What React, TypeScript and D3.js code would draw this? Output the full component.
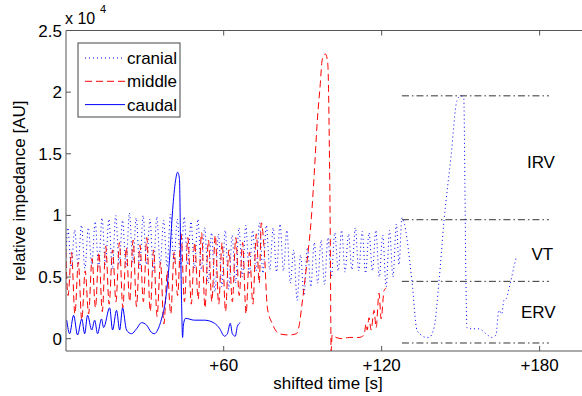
import React from "react";
import * as d3 from "d3";

// values in units of 10^4 AU, time in seconds
const cranial: [number, number][] = [
  [0, 0.62], [0.8, 0.9], [2.1, 0.58], [3.4, 0.88], [4.7, 0.6], [6.0, 0.92], [7.3, 0.57], [8.6, 0.9], [9.9, 0.6],
  [11.2, 0.95], [12.5, 0.58], [13.8, 0.98], [15.1, 0.6], [16.4, 0.97], [17.7, 0.56], [19.0, 1.0], [20.3, 0.6],
  [21.6, 0.96], [22.9, 0.58], [24.2, 1.02], [25.5, 0.62], [26.8, 0.98], [28.1, 0.57], [29.4, 1.0], [30.7, 0.6],
  [32.0, 0.97], [33.3, 0.55], [34.6, 0.99], [35.9, 0.6], [37.2, 0.96], [38.5, 0.58], [39.8, 1.01], [41.1, 0.62],
  [42.4, 0.97], [43.7, 0.58], [45.0, 0.99], [46.3, 0.6], [47.6, 0.95], [48.9, 0.57], [50.2, 0.97], [51.5, 0.56],
  [52.8, 0.9], [54.1, 0.45], [55.4, 0.86], [56.7, 0.38], [58.0, 0.85], [59.3, 0.42], [60.6, 0.88], [61.9, 0.4],
  [63.2, 0.84], [64.5, 0.45], [65.8, 0.9], [67.1, 0.5], [68.4, 0.92], [69.7, 0.52], [71.0, 0.88], [72.3, 0.55],
  [73.6, 0.94], [74.9, 0.53], [76.2, 0.92], [77.5, 0.56], [78.8, 0.9], [80.1, 0.54], [81.4, 0.93], [82.7, 0.55],
  [84.0, 0.88], [85.3, 0.45], [86.6, 0.72], [87.9, 0.31], [89.2, 0.68], [90.5, 0.35],
  [91.8, 0.74], [93.1, 0.42], [94.4, 0.78], [95.7, 0.45], [97.0, 0.8], [98.3, 0.44], [99.6, 0.82],
  [100.9, 0.5], [102.2, 0.86], [103.5, 0.55], [104.8, 0.88], [106.1, 0.54], [107.4, 0.85], [108.7, 0.56],
  [110.0, 0.9], [111.3, 0.55], [112.6, 0.87], [113.9, 0.53], [115.2, 0.86], [116.5, 0.55], [117.8, 0.88], [119.1, 0.5],
  [120.4, 0.84], [121.7, 0.42], [123.0, 0.88], [124.3, 0.5], [125.6, 0.93], [126.6, 0.6], [127.7, 0.98],
  [131.5, 0.47], [133.4, 0.07], [135.0, 0.03], [136.9, 0.01], [138.0, 0.01], [139.9, 0.09], [141.8, 0.47],
  [143.7, 0.96], [146.3, 1.47], [148.6, 1.93], [150.1, 1.97], [151.2, 1.95], [151.6, 1.28], [152.0, 0.47],
  [152.4, 0.09], [154.3, 0.08], [156.9, 0.08], [159.6, 0.04], [161.9, 0.01], [163.4, 0.03], [164.5, 0.23],
  [165.6, 0.2], [166.4, 0.31], [167.5, 0.33], [168.3, 0.4], [169.1, 0.47], [170.2, 0.58], [171.0, 0.65],
];

const middle: [number, number][] = [
  [0, 0.72], [0.9, 0.35], [2.2, 0.7], [3.5, 0.2], [4.8, 0.62], [6.1, 0.15], [7.4, 0.55], [8.7, 0.2], [10.0, 0.65],
  [11.3, 0.25], [12.6, 0.7], [13.9, 0.22], [15.2, 0.75], [16.5, 0.28], [17.8, 0.72], [19.1, 0.3], [20.4, 0.78],
  [21.7, 0.25], [23.0, 0.74], [24.3, 0.3], [25.6, 0.8], [26.9, 0.26], [28.2, 0.76], [29.5, 0.3], [30.8, 0.82],
  [32.1, 0.22], [33.4, 0.72], [34.7, 0.18], [36.0, 0.62], [37.3, 0.12], [38.6, 0.55], [39.9, 0.2], [41.2, 0.7],
  [42.5, 0.35], [43.8, 0.85], [45.1, 0.3], [46.4, 0.82], [47.7, 0.28], [49.0, 0.78], [50.3, 0.32], [51.6, 0.86],
  [52.9, 0.25], [54.2, 0.8], [55.5, 0.3], [56.8, 0.84], [58.1, 0.28], [59.4, 0.78], [60.7, 0.22], [62.0, 0.72],
  [63.3, 0.3], [64.6, 0.82], [65.9, 0.35], [67.2, 0.78], [68.5, 0.2], [69.8, 0.7], [71.1, 0.28], [72.4, 0.85],
  [73.5, 0.45], [74.3, 0.94], [75.4, 0.72], [76.6, 0.25], [78.5, 0.12], [81.1, 0.04], [84.9, 0.03], [87.6, 0.04],
  [88.7, 0.11], [89.8, 0.29], [91.7, 0.635], [93.3, 0.98], [94.4, 1.34], [95.5, 1.75], [96.7, 2.07], [97.4, 2.26],
  [98.6, 2.31], [99.4, 2.26], [99.7, 2.15], [100.1, 1.61], [100.5, 0.8], [100.8, -0.1], [101.2, 0.03],
  [102.7, 0.01], [105.0, 0.0], [107.7, 0.01], [111.4, 0.01], [113.3, 0.03], [114.1, 0.12], [114.5, 0.07],
  [115.2, 0.17], [116.0, 0.07], [117.1, 0.23], [117.9, 0.09], [119.0, 0.37], [119.8, 0.16], [120.9, 0.39], [121.7, 0.41],
];

const caudal: [number, number][] = [
  [0.4, 0.15], [1.5, 0.04], [3.0, 0.19], [4.5, 0.03], [6.1, 0.16], [7.2, 0.04], [8.3, 0.19], [9.9, 0.07],
  [11.0, 0.15], [12.1, 0.04], [13.6, 0.16], [14.4, 0.09], [16.7, 0.25], [17.8, 0.07], [19.3, 0.23], [20.5, 0.07],
  [21.6, 0.25], [23.1, 0.07], [25.0, 0.04], [26.9, 0.08], [28.8, 0.13], [30.7, 0.11], [32.6, 0.05], [33.7, 0.04],
  [34.9, 0.07], [36.4, 0.16], [37.9, 0.31], [39.4, 0.635], [40.6, 1.04], [41.7, 1.28], [42.5, 1.35], [43.2, 1.3],
  [43.6, 0.8], [44.0, 0.31], [44.4, 0.01], [44.7, 0.11], [45.5, 0.165], [48.9, 0.15], [52.7, 0.15], [56.5, 0.125],
  [58.4, 0.085], [60.3, 0.02], [61.4, 0.04], [62.5, 0.125], [63.3, 0.04], [64.4, 0.02], [65.2, 0.1], [66.3, 0.13],
];

const levels = [1.97, 0.965, 0.465, -0.035];
const levelStart = 127.7;
const levelEnd = 183.5;
const volumeLabels = ["IRV", "VT", "ERV"];
const volumeLabelPos: [number, number][] = [[180.5, 1.43], [181, 0.69], [179.5, 0.215]];

const xTicks = [60, 120, 180];
const xTickLabels = ["+60", "+120", "+180"];
const yTicks = [0, 0.5, 1, 1.5, 2, 2.5];
const yTickLabels = ["0", "0.5", "1", "1.5", "2", "2.5"];

const legendNames = ["cranial", "middle", "caudal"];

const W = 582;
const H = 396;
const FONT = "'Liberation Sans', Arial, Helvetica, sans-serif";
const FS = 17;

export default function App() {
  const x = d3.scaleLinear().domain([0, 200]).range([65.7, 65.7 + 200 * 2.633]);
  const y = d3.scaleLinear().domain([-0.1, 2.5]).range([351, 30.5]);
  const left = 66;
  const top = 30.5;
  const bottom = 351;
  const right = W + 10;

  const line = d3
    .line<[number, number]>()
    .x((d) => x(d[0]))
    .y((d) => y(d[1]))
    .curve(d3.curveMonotoneX);

  const styles = [
    { stroke: "#0000ff", dash: "1,3", width: 1 },
    { stroke: "#ff0000", dash: "7,4", width: 1 },
    { stroke: "#0000ff", dash: undefined as string | undefined, width: 1 },
  ];
  const series = [cranial, middle, caudal];

  return (
    <svg
      width={W}
      height={H}
      style={{ position: "absolute", left: 0, top: 0, background: "#fff" }}
      fontFamily={FONT}
    >
      <rect x={0} y={0} width={W} height={H} fill="#fff" />
      <defs>
        <clipPath id="plot">
          <rect x={left} y={top} width={right - left} height={bottom - top} />
        </clipPath>
      </defs>

      <g clipPath="url(#plot)">
        {levels.map((lv, i) => (
          <line
            key={"lv" + i}
            x1={x(levelStart)}
            x2={x(levelEnd)}
            y1={y(lv)}
            y2={y(lv)}
            stroke="#333"
            strokeWidth={1}
            strokeDasharray="7,3,1.5,3"
          />
        ))}
        {series.map((s, i) => (
          <path
            key={"s" + i}
            d={line(s) || ""}
            fill="none"
            stroke={styles[i].stroke}
            strokeWidth={styles[i].width}
            strokeDasharray={styles[i].dash}
          />
        ))}
      </g>

      {volumeLabels.map((t, i) => (
        <text
          key={"vl" + i}
          x={x(volumeLabelPos[i][0])}
          y={y(volumeLabelPos[i][1]) + 6}
          textAnchor="middle"
          fontSize={FS}
          fill="#000"
        >
          {t}
        </text>
      ))}

      <line x1={left} x2={right} y1={top} y2={top} stroke="#555" strokeWidth={1} />
      <line x1={left} x2={right} y1={bottom} y2={bottom} stroke="#555" strokeWidth={1} />
      <line x1={left} x2={left} y1={top} y2={bottom} stroke="#555" strokeWidth={1} />

      {xTicks.map((t, i) => (
        <g key={"xt" + i}>
          <line x1={x(t)} x2={x(t)} y1={bottom} y2={bottom - 5} stroke="#555" />
          <line x1={x(t)} x2={x(t)} y1={top} y2={top + 5} stroke="#555" />
          <text x={x(t)} y={bottom + 20} textAnchor="middle" fontSize={FS} fill="#000">
            {xTickLabels[i]}
          </text>
        </g>
      ))}
      {yTicks.map((t, i) => (
        <g key={"yt" + i}>
          <line x1={left} x2={left + 5} y1={y(t)} y2={y(t)} stroke="#555" />
          <text x={left - 4} y={y(t) + 6} textAnchor="end" fontSize={FS} fill="#000">
            {yTickLabels[i]}
          </text>
        </g>
      ))}

      <text x={65} y={24} fontSize={16} fill="#000">
        x 10
      </text>
      <text x={100} y={13} fontSize={11} fill="#000">
        4
      </text>

      <text x={328} y={389} textAnchor="middle" fontSize={FS} fill="#000">
        shifted time [s]
      </text>
      <text
        transform={`translate(25, ${(top + bottom) / 2}) rotate(-90)`}
        textAnchor="middle"
        fontSize={FS}
        fill="#000"
      >
        relative impedance [AU]
      </text>

      <g>
        <rect x={78} y={43} width={102} height={74} fill="#fff" stroke="#444" strokeWidth={1} />
        {legendNames.map((n, i) => {
          const ly = 58 + i * 23.3;
          return (
            <g key={"lg" + i}>
              <line
                x1={85}
                x2={125}
                y1={ly}
                y2={ly}
                stroke={styles[i].stroke}
                strokeWidth={1}
                strokeDasharray={styles[i].dash}
              />
              <text x={127} y={ly + 6} fontSize={FS} fill="#000">
                {n}
              </text>
            </g>
          );
        })}
      </g>
    </svg>
  );
}
